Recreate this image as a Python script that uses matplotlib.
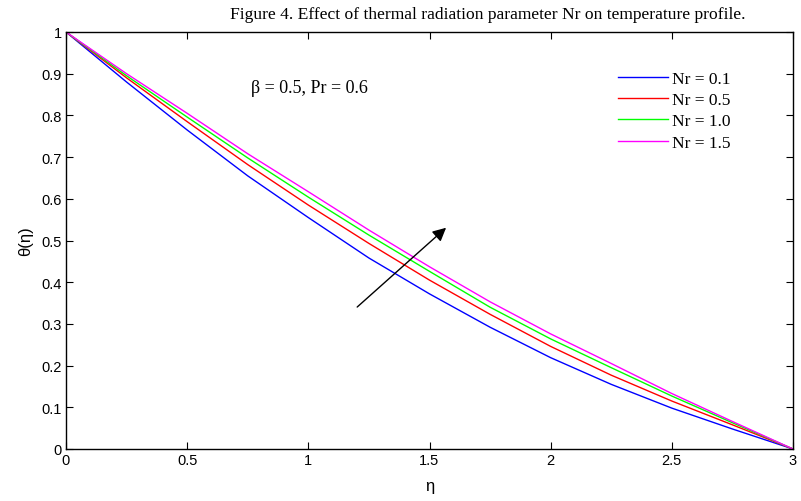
import matplotlib
matplotlib.use("Agg")
import matplotlib.pyplot as plt
import numpy as np

eta = [0.0, 0.25, 0.5, 0.75, 1.0, 1.25, 1.5, 1.75, 2.0, 2.25, 2.5, 2.75, 3.0]
theta_nr01 = [1.0, 0.880, 0.765, 0.655, 0.555, 0.458, 0.372, 0.292, 0.219, 0.155, 0.098, 0.048, 0.0]
theta_nr05 = [1.0, 0.890, 0.785, 0.682, 0.585, 0.493, 0.405, 0.323, 0.246, 0.177, 0.115, 0.058, 0.0]
theta_nr10 = [1.0, 0.895, 0.796, 0.698, 0.604, 0.513, 0.426, 0.340, 0.264, 0.195, 0.127, 0.063, 0.0]
theta_nr15 = [1.0, 0.900, 0.805, 0.708, 0.617, 0.525, 0.437, 0.353, 0.276, 0.205, 0.133, 0.066, 0.0]
labels = ["Nr = 0.1", "Nr = 0.5", "Nr = 1.0", "Nr = 1.5"]
colors = ["#0000ff", "#ff0000", "#00ff00", "#ff00ff"]
xticks = [0, 0.5, 1, 1.5, 2, 2.5, 3]
xticklabels = ["0", "0.5", "1", "1.5", "2", "2.5", "3"]
yticks = [0, 0.1, 0.2, 0.3, 0.4, 0.5, 0.6, 0.7, 0.8, 0.9, 1.0]
yticklabels = ["0", "0.1", "0.2", "0.3", "0.4", "0.5", "0.6", "0.7", "0.8", "0.9", "1"]

fig = plt.figure(figsize=(8.01, 5.02), dpi=100)
ax = fig.add_axes([66/801, 52/502, 727/801, 417/502])

for y, lab, c in zip([theta_nr01, theta_nr05, theta_nr10, theta_nr15], labels, colors):
    ax.plot(eta, y, color=c, lw=1.0, label=lab)

ax.set_xlim(0, 3)
ax.set_ylim(0, 1)
ax.set_xticks(xticks)
ax.set_xticklabels(xticklabels)
ax.set_yticks(yticks)
ax.set_yticklabels(yticklabels)
ax.tick_params(direction="in", length=5, width=0.8, top=True, right=True,
               labelsize=10.5, pad=3)
for lbl in ax.get_xticklabels() + ax.get_yticklabels():
    lbl.set_family("Liberation Sans")
for s in ax.spines.values():
    s.set_linewidth(1.0)

ax.set_xlabel("η", fontsize=12, family="Liberation Sans", labelpad=8)
ax.set_ylabel("θ(η)", fontsize=12, family="Liberation Sans", labelpad=6)

fig.text(488/801, 1 - 15/502, "Figure 4. Effect of thermal radiation parameter Nr on temperature profile.",
         ha="center", va="center", fontsize=12.6, family="Liberation Serif")

ax.text(0.764, 0.868, "β = 0.5, Pr = 0.6", fontsize=13, family="Liberation Serif",
        va="center", ha="left")

ax.annotate("", xy=(1.577, 0.535), xytext=(1.193, 0.336),
            arrowprops=dict(arrowstyle="-|>", color="black", lw=1.0, mutation_scale=20))

leg = ax.legend(loc="upper left", bbox_to_anchor=((602 - 66) / 727, 0.945), frameon=False,
                prop={"family": "Liberation Serif", "size": 12.5}, handlelength=2.9,
                handletextpad=0.25, labelspacing=0.3)

fig.savefig("out.png", dpi=100)
